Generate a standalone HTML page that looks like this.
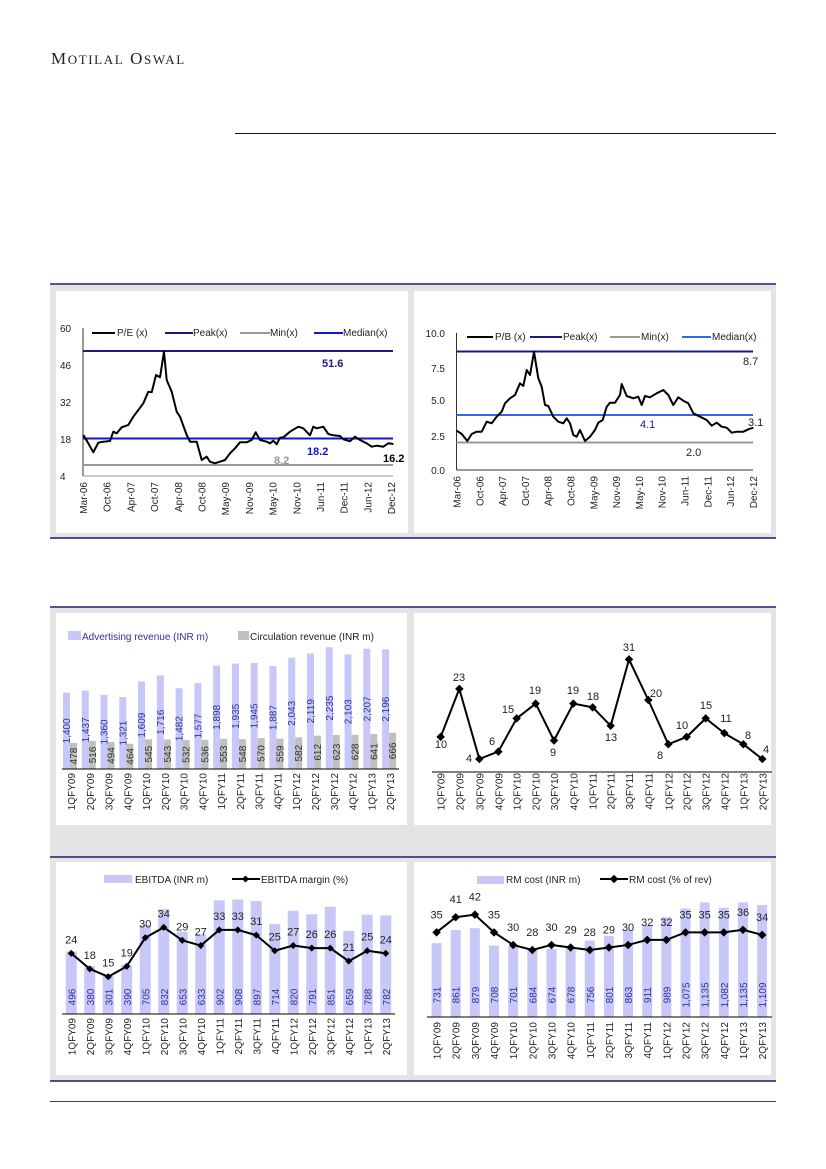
<!DOCTYPE html>
<html><head><meta charset="utf-8">
<style>
html,body{margin:0;padding:0;background:#fff;}
svg{display:block;font-family:"Liberation Sans",sans-serif;}
</style></head>
<body>
<svg id="s" width="826" height="1169" viewBox="0 0 826 1169" xmlns="http://www.w3.org/2000/svg">
<rect width="826" height="1169" fill="#fff"/>
<text x="51" y="64" font-family="Liberation Serif,serif" font-size="17" fill="#222" letter-spacing="1.6">M<tspan font-size="13">OTILAL</tspan> O<tspan font-size="13">SWAL</tspan></text>
<line x1="235" y1="133.5" x2="776" y2="133.5" stroke="#111" stroke-width="1"/>
<rect x="50" y="285" width="726" height="253" fill="#e4e4e4"/>
<rect x="56" y="291" width="352" height="242" fill="#fff"/>
<rect x="414" y="291" width="357" height="242" fill="#fff"/>
<line x1="50" y1="284" x2="776" y2="284" stroke="#1a1a6e" stroke-width="1.5"/>
<line x1="50" y1="538" x2="776" y2="538" stroke="#1a1a6e" stroke-width="1.5"/>

<rect x="50" y="608" width="726" height="249" fill="#e4e4e4"/>
<rect x="56" y="613" width="351" height="212" fill="#fff"/>
<rect x="414" y="613" width="357" height="212" fill="#fff"/>
<line x1="50" y1="607" x2="776" y2="607" stroke="#1a1a6e" stroke-width="1.5"/>
<line x1="50" y1="857" x2="776" y2="857" stroke="#1a1a6e" stroke-width="1.5"/>

<rect x="50" y="858" width="726" height="223" fill="#e4e4e4"/>
<rect x="56" y="862" width="351" height="213" fill="#fff"/>
<rect x="414" y="862" width="357" height="213" fill="#fff"/>
<line x1="50" y1="1081" x2="776" y2="1081" stroke="#1a1a6e" stroke-width="1.5"/>
<line x1="50" y1="1101.5" x2="776" y2="1101.5" stroke="#444" stroke-width="1"/>
<g id="g"></g>
</svg>
<script>
var g=document.getElementById('g');var out='';
function T(x,y,t,o){o=o||{};out+='<text x="'+x+'" y="'+y+'" font-size="'+(o.fs||10)+'" fill="'+(o.c||'#222')+'" text-anchor="'+(o.a||'start')+'"'+(o.b?' font-weight="bold"':'')+(o.r?' transform="rotate(-90 '+x+' '+y+')"':'')+'>'+t+'</text>';}
function L(x1,y1,x2,y2,c,w){out+='<line x1="'+x1+'" y1="'+y1+'" x2="'+x2+'" y2="'+y2+'" stroke="'+c+'" stroke-width="'+(w||1)+'"/>';}
function R(x,y,w,h,c){out+='<rect x="'+x+'" y="'+y+'" width="'+w+'" height="'+h+'" fill="'+c+'"/>';}
function P(ox,oy,pts,c,w){var d='';for(var i=0;i<pts.length;i+=2){d+=(i?'L':'M')+(ox+pts[i]/3).toFixed(1)+' '+(oy+pts[i+1]/3).toFixed(1);}out+='<path d="'+d+'" fill="none" stroke="'+c+'" stroke-width="'+(w||2)+'" stroke-linejoin="round"/>';}
var months=['Mar-06','Oct-06','Apr-07','Oct-07','Apr-08','Oct-08','May-09','Nov-09','May-10','Nov-10','Jun-11','Dec-11','Jun-12','Dec-12'];
(function(){
 var x0=83,x1=393;
 L(x0,328,x0,476,'#333');L(x0,476,x1,476,'#999');
 L(x0,351,x1,351,'#1a1a80',2);L(x0,438.5,x1,438.5,'#1010e0',2);L(x0,465,x1,465,'#999',2);
 [['60',332],['46',369],['32',406],['18',443],['4',480]].forEach(function(a){T(60,a[1],a[0],{fs:10});});
 var pe=[100,465,115,490,130,517,145,488,160,485,180,483,190,455,200,460,215,442,235,435,250,410,265,390,280,370,295,335,305,337,318,285,330,292,342,215,350,300,365,335,380,395,390,410,410,465,420,485,440,485,455,540,470,530,480,545,495,550,510,545,525,540,540,520,555,505,570,487,590,487,605,480,617,457,630,480,650,485,660,490,670,482,680,493,690,473,700,472,720,455,745,440,760,445,780,466,790,440,800,445,820,440,835,462,850,466,870,468,880,478,900,484,915,470,930,480,950,490,965,500,980,497,1000,500,1015,490,1030,492];
 P(50,280,pe,'#000',2);
 T(322,367,'51.6',{b:1,c:'#1a1a80',fs:11});T(307,455,'18.2',{b:1,c:'#1010e0',fs:11});T(274,464,'8.2',{b:1,c:'#999',fs:11});T(383,462,'16.2',{b:1,c:'#000',fs:11});
 L(92,333,115,333,'#000',2);T(117,336,'P/E (x)');L(165,333,193,333,'#1a1a80',2);T(193,336,'Peak(x)');L(240,333,270,333,'#999',2);T(270,336,'Min(x)');L(314,333,343,333,'#1010e0',2);T(343,336,'Median(x)');
 for(var i=0;i<14;i++){var x=x0+4+i*23.7;T(x,482,months[i],{r:1,a:'end',fs:10});}
})();
(function(){
 var x0=456.5,x1=753;
 L(x0,333,x0,470,'#333');L(x0,470,x1,470,'#333');
 L(x0,351.5,x1,351.5,'#1a1a80',2);L(x0,415,x1,415,'#3366ee',2);L(x0,442.5,x1,442.5,'#999',2);
 [['10.0',337],['7.5',372],['5.0',404],['2.5',440],['0.0',474]].forEach(function(a){T(445,a[1],a[0],{a:'end',fs:10});});
 var pb=[140,452,155,462,172,483,185,462,200,455,215,455,230,425,245,430,260,410,275,395,285,370,300,355,315,345,330,310,340,318,350,270,360,285,372,215,385,295,395,320,405,375,415,378,430,410,445,425,460,430,470,415,480,430,490,465,500,470,510,450,525,483,540,470,555,450,565,428,578,420,590,380,600,368,615,368,630,345,635,312,650,348,670,355,685,350,695,375,705,348,720,352,740,340,760,330,775,345,790,375,805,352,820,362,835,370,850,400,870,410,890,420,905,437,920,428,935,440,950,443,965,458,980,455,1000,455,1015,448,1030,443];
 P(410,280,pb,'#000',2);
 T(743,365,'8.7',{fs:11});T(640,428,'4.1',{fs:11,c:'#1a1a80'});T(686,456,'2.0',{fs:11});T(748,426,'3.1',{fs:11});
 L(467,337,493,337,'#000',2);T(495,340,'P/B (x)');L(530,337,562,337,'#1a1a80',2);T(563,340,'Peak(x)');L(610,337,640,337,'#999',2);T(641,340,'Min(x)');L(682,337,711,337,'#3366ee',2);T(712,340,'Median(x)');
 for(var i=0;i<14;i++){var x=x0+4+i*22.8;T(x,476,months[i],{r:1,a:'end',fs:10});}
})();
var q=['1QFY09','2QFY09','3QFY09','4QFY09','1QFY10','2QFY10','3QFY10','4QFY10','1QFY11','2QFY11','3QFY11','4QFY11','1QFY12','2QFY12','3QFY12','4QFY12','1QFY13','2QFY13'];
var LAV='#c8c8f8';
(function(){
 var ad=[1400,1437,1360,1321,1609,1716,1482,1577,1898,1935,1945,1887,2043,2119,2235,2103,2207,2196];
 var ci=[478,516,494,464,545,543,532,536,553,548,570,559,582,612,623,628,641,666];
 var base=769,k=0.0545,x0=62,w=18.77;
 for(var i=0;i<18;i++){var gx=x0+i*w;var h=ad[i]*k,hc=ci[i]*k;
  R(gx+1,base-h,7,h,LAV);R(gx+8,base-hc,7,hc,'#c0c0c0');
  T(gx+8,base-h/2,ad[i].toLocaleString('en-US'),{r:1,a:'middle',c:'#3030a0',fs:10});
  T(gx+15,base-hc/2,String(ci[i]),{r:1,a:'middle',c:'#333',fs:10});
  T(gx+13,773,q[i],{r:1,a:'end',fs:10});}
 L(x0,base,399,base,'#000',1);
 R(68,631,13,9,LAV);T(82,640,'Advertising revenue (INR m)',{fs:10,c:'#3030a0'});
 R(238,631,11,9,'#c0c0c0');T(250,640,'Circulation revenue (INR m)',{fs:10});
})();
(function(){
 var v=[10,23,4,6,15,19,9,19,18,13,31,20,8,10,15,11,8,4];
 var zx=[92,148,208,265,320,377,432,490,548,602,657,715,775,830,887,943,1000,1057];
 var pts=[];for(var i=0;i<18;i++){pts.push(zx[i],477-(v[i]-4)*11.07);}
 P(410,600,pts,'#000',2);
 for(var i=0;i<18;i++){var x=410+pts[2*i]/3,y=600+pts[2*i+1]/3;out+='<rect x="'+(x-3)+'" y="'+(y-3)+'" width="6" height="6" fill="#000" transform="rotate(45 '+x+' '+y+')"/>';
  T(410+zx[i]/3+4,773,q[i],{r:1,a:'end',fs:10});}
 var lb=[[441,748,'10'],[459,681,'23'],[469,762,'4'],[492,745,'6'],[508,713,'15'],[535,694,'19'],[553,756,'9'],[573,694,'19'],[593,700,'18'],[611,741,'13'],[629,651,'31'],[656,697,'20'],[660,759,'8'],[682,729,'10'],[706,709,'15'],[726,722,'11'],[748,739,'8'],[766,753,'4']];
 lb.forEach(function(a){T(a[0],a[1],a[2],{a:'middle',fs:11});});
 L(432,772,772,772,'#000',1);
})();
(function(){
 var b=[496,380,301,390,705,832,653,633,902,908,897,714,820,791,851,659,788,782];
 var m=[24,18,15,19,30,34,29,27,33,33,31,25,27,26,26,21,25,24];
 var base=1014,k=0.126,x0=62,w=18.5;
 for(var i=0;i<18;i++){var gx=x0+i*w,cx=gx+w/2;var h=b[i]*k;R(cx-5.5,base-h,11,h,LAV);
  T(cx+4,997,String(b[i]),{r:1,a:'middle',c:'#3030a0',fs:10});T(cx+4,1018,q[i],{r:1,a:'end',fs:10});}
 var d='';for(var i=0;i<18;i++){var cx=x0+i*w+w/2,y=855+(295-(m[i]-24)*7.8)/3;d+=(i?'L':'M')+cx+' '+y;out+='<rect x="'+(cx-2.5)+'" y="'+(y-2.5)+'" width="5" height="5" fill="#000" transform="rotate(45 '+cx+' '+y+')"/>';T(cx,y-10,String(m[i]),{a:'middle',fs:11});}
 out+='<path d="'+d+'" fill="none" stroke="#000" stroke-width="2"/>';
 L(x0,base,395,base,'#000',1);
 R(104,875,28,8,LAV);T(135,883,'EBITDA (INR m)',{fs:10});L(232,879,260,879,'#000',2);out+='<rect x="243" y="876.5" width="5" height="5" fill="#000" transform="rotate(45 245.5 879)"/>';T(261,883,'EBITDA margin (%)',{fs:10});
})();
(function(){
 var b=[731,861,879,708,701,684,674,678,756,801,863,911,989,1075,1135,1082,1135,1109];
 var m=[35,41,42,35,30,28,30,29,28,29,30,32,32,35,35,35,36,34];
 var base=1017,k=0.101,x0=427,w=19.15;var d='';
 for(var i=0;i<18;i++){var cx=x0+i*w+w/2;var h=b[i]*k;R(cx-5,base-h,10,h,LAV);
  T(cx+4,995,b[i].toLocaleString('en-US'),{r:1,a:'middle',c:'#3030a0',fs:10});T(cx+4,1022,q[i],{r:1,a:'end',fs:10});
  var y=855+(232-(m[i]-35)*7.57)/3;d+=(i?'L':'M')+cx+' '+y;out+='<rect x="'+(cx-3)+'" y="'+(y-3)+'" width="6" height="6" fill="#000" transform="rotate(45 '+cx+' '+y+')"/>';T(cx,y-14,String(m[i]),{a:'middle',fs:11});}
 out+='<path d="'+d+'" fill="none" stroke="#000" stroke-width="2"/>';
 L(x0,base,772,base,'#000',1);
 R(477,876,27,8,LAV);T(506,883,'RM cost (INR m)',{fs:10});L(600,879,628,879,'#000',2);out+='<rect x="611" y="876" width="6" height="6" fill="#000" transform="rotate(45 614 879)"/>';T(629,883,'RM cost (% of rev)',{fs:10});
})();
g.innerHTML=out;
</script>
</body></html>
